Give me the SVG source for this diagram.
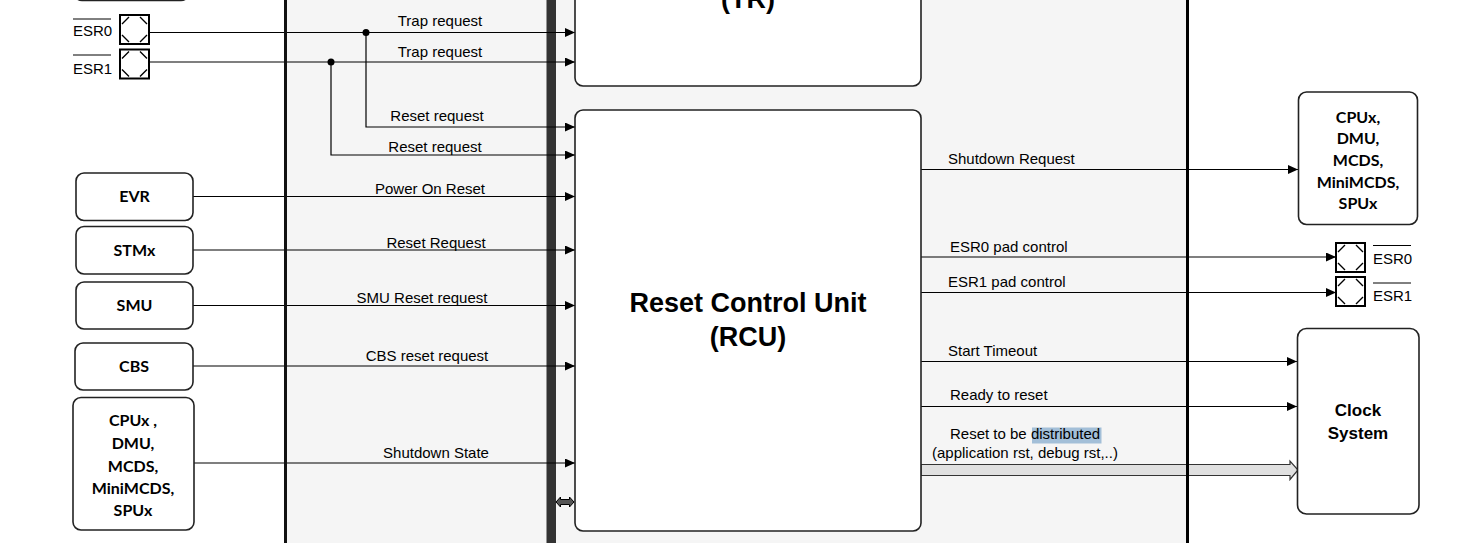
<svg xmlns="http://www.w3.org/2000/svg" width="1459" height="543" viewBox="0 0 1459 543">
<style>
.lbl{font-family:"Liberation Sans",Arial,sans-serif;font-size:15px;fill:#000}
.mid{text-anchor:middle}
.nt{font-family:Lato,"Open Sans",sans-serif;font-weight:bold;font-size:16px;fill:#000;text-anchor:middle}
.big{font-family:"Liberation Sans",Arial,sans-serif;font-weight:bold;font-size:27px;fill:#000;text-anchor:middle}
.clk{font-family:"Liberation Sans",Arial,sans-serif;font-weight:bold;font-size:17px;fill:#000;text-anchor:middle}
.box{fill:#fff;stroke:#222;stroke-width:1.6}
.ln{fill:none;stroke:#000;stroke-width:1.2}
.arr{marker-end:url(#ah)}
.pad{fill:#fff;stroke:#000;stroke-width:2}
.padd{stroke:#000;stroke-width:1.4}
</style>
<defs>
<marker id="ah" markerUnits="userSpaceOnUse" markerWidth="11" markerHeight="9" refX="10" refY="4.5" orient="auto">
<path d="M0,0 L10,4.5 L0,9 z" fill="#000"/>
</marker>
<g id="padsym">
<rect class="pad" x="0" y="0" width="29" height="29"/>
<path class="padd" d="M2,9 L9,2 M20,2 L27,9 M2,20 L9,27 M20,27 L27,20"/>
</g>
</defs>
<rect x="0" y="0" width="1459" height="543" fill="#fff"/>
<g id="panel">
<rect x="286" y="0" width="902" height="543" fill="#f5f5f5"/>
<rect x="546.5" y="0" width="9.5" height="543" fill="#333"/>
</g>
<g id="connectors">
<path class="ln arr" d="M149,32.5 H575"/>
<path class="ln arr" d="M149,62 H575"/>
<path class="ln arr" d="M366,32.5 V127 H575"/>
<path class="ln arr" d="M331,62 V155 H575"/>
<circle cx="366" cy="32.5" r="3.5" fill="#000"/>
<circle cx="331" cy="62" r="3.5" fill="#000"/>
<path class="ln arr" d="M193,196.5 H575"/>
<path class="ln arr" d="M193,250 H575"/>
<path class="ln arr" d="M193,305.5 H575"/>
<path class="ln arr" d="M193,366 H575"/>
<path class="ln arr" d="M194,463 H575"/>
<path class="ln arr" d="M921,169.5 H1298"/>
<path class="ln arr" d="M921,257 H1336"/>
<path class="ln arr" d="M918,292.5 H1336"/>
<path class="ln arr" d="M921,361.5 H1297"/>
<path class="ln arr" d="M921,406.5 H1297"/>
<polygon points="921,464.5 1290,464.5 1290,461 1298,470 1290,479.5 1290,475.5 921,475.5" fill="#e0e0e0" stroke="#333" stroke-width="1.2"/>
<polygon points="556,502 560.5,497 560.5,499.5 569.5,499.5 569.5,497 574,502 569.5,507 569.5,504.5 560.5,504.5 560.5,507" fill="#555" stroke="#000" stroke-width="1"/>
<text class="lbl mid" x="440" y="26">Trap request</text>
<text class="lbl mid" x="440" y="57">Trap request</text>
<text class="lbl mid" x="437" y="121">Reset request</text>
<text class="lbl mid" x="435" y="152">Reset request</text>
<text class="lbl mid" x="430" y="194">Power On Reset</text>
<text class="lbl mid" x="436" y="248">Reset Request</text>
<text class="lbl mid" x="422" y="303">SMU Reset request</text>
<text class="lbl mid" x="427" y="361">CBS reset request</text>
<text class="lbl mid" x="436" y="458">Shutdown State</text>
<text class="lbl" x="948" y="164">Shutdown Request</text>
<text class="lbl" x="950" y="252">ESR0 pad control</text>
<text class="lbl" x="948" y="287">ESR1 pad control</text>
<text class="lbl" x="948" y="356">Start Timeout</text>
<text class="lbl" x="950" y="400">Ready to reset</text>
<rect x="1032" y="427.5" width="69.5" height="16" fill="#a3bfd8"/>
<text class="lbl" x="950" y="439">Reset to be distributed</text>
<text class="lbl" x="932" y="458">(application rst, debug rst,..)</text>
</g>
<g id="top-left-box"><rect class="box" x="74" y="-40" width="115" height="40.5" rx="8"/></g>
<g id="esr0-left"><use href="#padsym" x="120" y="15"/><text class="lbl" x="73" y="36">ESR0</text><line x1="73" y1="19" x2="111" y2="19" stroke="#000" stroke-width="1"/></g>
<g id="esr1-left"><use href="#padsym" x="120" y="49.5"/><text class="lbl" x="73" y="74">ESR1</text><line x1="73" y1="55" x2="111" y2="55" stroke="#000" stroke-width="1"/></g>
<g id="tr"><rect class="box" x="575" y="-30" width="346" height="116" rx="8"/><text class="big" x="748" y="8">(TR)</text></g>
<g id="rcu"><rect class="box" x="575" y="110" width="346" height="421" rx="8"/><text class="big" x="748" y="312">Reset Control Unit</text><text class="big" x="748" y="346">(RCU)</text></g>
<g id="evr"><rect class="box" x="76" y="173" width="117" height="47.5" rx="8"/><text class="nt" x="134.5" y="202">EVR</text></g>
<g id="stmx"><rect class="box" x="76" y="226.5" width="117" height="47.5" rx="8"/><text class="nt" x="134.5" y="256">STMx</text></g>
<g id="smu"><rect class="box" x="76" y="282" width="117" height="47" rx="8"/><text class="nt" x="134.5" y="311">SMU</text></g>
<g id="cbs"><rect class="box" x="75" y="343" width="118" height="47" rx="8"/><text class="nt" x="134" y="372">CBS</text></g>
<g id="cpux-left"><rect class="box" x="73" y="397.5" width="121" height="132.5" rx="8"/>
<text class="nt" x="133" y="426">CPUx ,</text><text class="nt" x="133" y="449">DMU,</text><text class="nt" x="133" y="472">MCDS,</text><text class="nt" x="133" y="494">MiniMCDS,</text><text class="nt" x="133" y="516">SPUx</text></g>
<g id="cpux-right"><rect class="box" x="1298.5" y="92" width="119" height="132.5" rx="8"/>
<text class="nt" x="1358" y="122.5">CPUx,</text><text class="nt" x="1358" y="144">DMU,</text><text class="nt" x="1358" y="166">MCDS,</text><text class="nt" x="1358" y="188">MiniMCDS,</text><text class="nt" x="1358" y="209">SPUx</text></g>
<g id="esr0-right"><use href="#padsym" x="1336" y="243"/><text class="lbl" x="1373" y="264">ESR0</text><line x1="1373" y1="245.5" x2="1411" y2="245.5" stroke="#000" stroke-width="1"/></g>
<g id="esr1-right"><use href="#padsym" x="1336" y="277"/><text class="lbl" x="1373" y="301">ESR1</text><line x1="1373" y1="283" x2="1411" y2="283" stroke="#000" stroke-width="1"/></g>
<g id="clock"><rect class="box" x="1297.5" y="328.5" width="121.5" height="185.5" rx="9"/><text class="clk" x="1358" y="416">Clock</text><text class="clk" x="1358" y="439">System</text></g>
<g id="panel-borders">
<line x1="285.5" y1="0" x2="285.5" y2="543" stroke="#111" stroke-width="3"/>
<line x1="1187.5" y1="0" x2="1187.5" y2="543" stroke="#000" stroke-width="3"/>
</g>
</svg>
